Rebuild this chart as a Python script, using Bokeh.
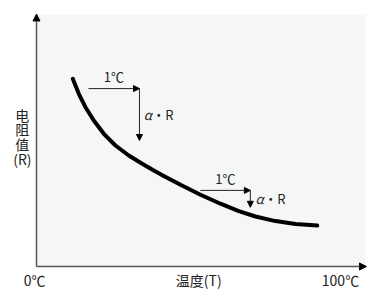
from bokeh.plotting import figure
from bokeh.models import Arrow, NormalHead, Label, Range1d, BoxAnnotation
from bokeh.embed import file_html
from bokeh.resources import INLINE

# curve data (temperature %, resistance %)
temp = [11.03, 12.86, 14.89, 17.42, 20.46, 24.01, 28.05, 32.13, 35.65, 38.69,
        43.77, 49.85, 55.93, 61.49, 66.57, 72.64, 78.72, 85.32]
resist = [74.48, 68.53, 63.21, 57.94, 52.66, 48.02, 44.05, 40.75, 38.10, 35.91,
          32.42, 28.49, 24.92, 21.98, 19.84, 18.02, 16.90, 16.27]

# annotation arrows: (x_start, x_end, y_top, y_bottom)
step1 = [15.8, 31.3, 70.6, 50.0]
step2 = [49.8, 65.0, 30.2, 23.5]
step_labels = ["1℃", "α", "・R"]

x_tick_labels = ["0℃", "温度(T)", "100℃"]
x_tick_pos = [-0.6, 49.3, 92.4]
y_label_chars = ["电", "阻", "值", "(R)"]
y_label_pos = [60.3, 54.6, 48.6, 42.7]

FONT = "Noto Sans CJK SC"
TXT = "#222222"

# frame covers the full canvas; data 0..100 maps to the inner chart box
p = figure(width=384, height=297, output_backend="svg", toolbar_location=None,
           x_range=Range1d(-10.94, 105.78), y_range=Range1d(-12.30, 105.56),
           min_border=0)
p.xaxis.visible = False
p.yaxis.visible = False
p.grid.visible = False
p.outline_line_color = None
p.background_fill_color = "white"
p.border_fill_color = "white"

p.add_layout(BoxAnnotation(left=0, right=100, bottom=0, top=100, fill_color="#f5f7f7",
                           fill_alpha=1, line_color=None, level="underlay"))

p.line(temp, resist, line_width=4, line_color="black", line_cap="round", line_join="round")

# axes arrows
p.add_layout(Arrow(x_start=0, y_start=0, x_end=100.3, y_end=0, line_color="#555555", line_width=1.5,
                   end=NormalHead(size=7, fill_color="black", line_color="black")))
p.add_layout(Arrow(x_start=0, y_start=0, x_end=0, y_end=100.2, line_color="#555555", line_width=1.5,
                   end=NormalHead(size=7, fill_color="black", line_color="black")))

def step(s, label_dx):
    xs, xe, yt, yb = s
    p.add_layout(Arrow(x_start=xs, y_start=yt, x_end=xe, y_end=yt, line_color="#222222", line_width=1,
                       end=NormalHead(size=6, fill_color="black", line_color="black")))
    p.add_layout(Arrow(x_start=xe, y_start=yt, x_end=xe, y_end=yb, line_color="#222222", line_width=1,
                       end=NormalHead(size=6, fill_color="black", line_color="black")))
    p.add_layout(Label(x=(xs + xe) / 2, y=yt + 1.0, text=step_labels[0], text_align="center",
                       text_baseline="bottom", text_font=FONT, text_font_size="13px", text_color=TXT))
    p.add_layout(Label(x=xe + label_dx, y=(yt + yb) / 2, text=step_labels[1], text_align="left",
                       text_baseline="middle", text_font=FONT, text_font_size="13px",
                       text_font_style="italic", text_color=TXT))
    p.add_layout(Label(x=xe + label_dx + 2.6, y=(yt + yb) / 2, text=step_labels[2], text_align="left",
                       text_baseline="middle", text_font=FONT, text_font_size="13px", text_color=TXT))

step(step1, 1.3)
step(step2, 1.6)

for t, xp in zip(x_tick_labels, x_tick_pos):
    p.add_layout(Label(x=xp, y=-5.2, text=t, text_align="center", text_baseline="middle",
                       text_font=FONT, text_font_size="14px", text_color=TXT))

for c, yp in zip(y_label_chars, y_label_pos):
    p.add_layout(Label(x=-4.3, y=yp, text=c, text_align="center", text_baseline="middle",
                       text_font=FONT, text_font_size="14px", text_color=TXT))

open("out.html", "w").write(file_html(p, INLINE))
